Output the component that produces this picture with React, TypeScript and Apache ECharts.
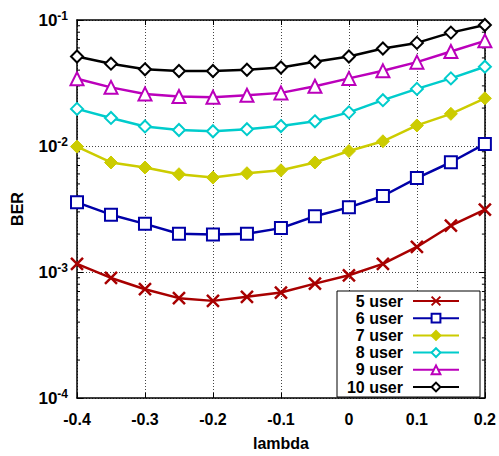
import React, { useEffect, useRef } from "react";
import * as echarts from "echarts";

const lambdas = [-0.4, -0.35, -0.3, -0.25, -0.2, -0.15, -0.1, -0.05, 0, 0.05, 0.1, 0.15, 0.2];
const user5 = [0.00116, 0.000897, 0.00073, 0.00062, 0.00059, 0.000635, 0.000687, 0.000809, 0.000942, 0.00116, 0.00158, 0.00233, 0.00313];
const user6 = [0.00357, 0.00285, 0.00241, 0.00201, 0.00198, 0.00201, 0.00223, 0.00277, 0.00326, 0.00401, 0.00556, 0.00743, 0.01038];
const user7 = [0.00989, 0.0074, 0.00675, 0.00597, 0.00562, 0.00608, 0.00642, 0.0074, 0.00912, 0.0109, 0.01456, 0.018, 0.0239];
const user8 = [0.0197, 0.0167, 0.0143, 0.0134, 0.0131, 0.0136, 0.0144, 0.0157, 0.0185, 0.0231, 0.0284, 0.0344, 0.0426];
const user9 = [0.0342, 0.0292, 0.0259, 0.0247, 0.0244, 0.0253, 0.0264, 0.0298, 0.0344, 0.0395, 0.0463, 0.0562, 0.0683];
const user10 = [0.0513, 0.045, 0.0406, 0.0394, 0.0394, 0.0403, 0.042, 0.0466, 0.0513, 0.0594, 0.0658, 0.0794, 0.0913];
const seriesNames = ["5 user", "6 user", "7 user", "8 user", "9 user", "10 user"];
const minorTicks = [2e-4, 3e-4, 4e-4, 5e-4, 6e-4, 7e-4, 8e-4, 9e-4, 2e-3, 3e-3, 4e-3, 5e-3, 6e-3, 7e-3, 8e-3, 9e-3, 2e-2, 3e-2, 4e-2, 5e-2, 6e-2, 7e-2, 8e-2, 9e-2];

const FONT = "'Liberation Sans', Arial, sans-serif";
const CROSS = "path://M0,0L10,10M10,0L0,10";

export default function App() {
  const ref = useRef<HTMLDivElement>(null);
  useEffect(() => {
    const chart = echarts.init(ref.current!, null, { renderer: "svg" });
    const allData = [user5, user6, user7, user8, user9, user10];
    const styles = [
      { color: "#a80000", symbol: CROSS, size: 12, fill: "#a80000", bw: 2.5 },
      { color: "#0000a8", symbol: "rect", size: 12, fill: "#fff", bw: 2 },
      { color: "#cccc00", symbol: "diamond", size: 13, fill: "#cccc00", bw: 1 },
      { color: "#00cccc", symbol: "diamond", size: 12, fill: "#fff", bw: 2 },
      { color: "#bb00bb", symbol: "triangle", size: 13, fill: "#fff", bw: 2 },
      { color: "#000000", symbol: "diamond", size: 12, fill: "#fff", bw: 2 },
    ];
    const lineSeries = allData.map((d, i) => ({
      name: seriesNames[i],
      type: "line",
      data: d.map((v, j) => [lambdas[j], v]),
      symbol: styles[i].symbol,
      symbolSize: styles[i].size,
      showAllSymbol: true,
      lineStyle: { color: styles[i].color, width: 2.5 },
      itemStyle: { color: styles[i].fill, borderColor: styles[i].color, borderWidth: styles[i].bw },
      z: 3,
    }));
    const minorSeries = {
      type: "custom",
      silent: true,
      data: minorTicks.map((v) => [lambdas[0], v]),
      renderItem: (params: any, api: any) => {
        const p = api.coord([api.value(0), api.value(1)]);
        const cs = params.coordSys;
        const st = { stroke: "#000", lineWidth: 1 };
        return {
          type: "group",
          children: [
            { type: "line", shape: { x1: cs.x, y1: p[1], x2: cs.x + 3, y2: p[1] }, style: st },
            { type: "line", shape: { x1: cs.x + cs.width - 3, y1: p[1], x2: cs.x + cs.width, y2: p[1] }, style: st },
          ],
        };
      },
      z: 2,
    };
    const yLabel = {
      fontFamily: FONT,
      formatter: (v: number) => `{b|10}{s|${Math.round(Math.log10(v))}}`,
      margin: 9,
      rich: {
        b: { fontSize: 17, fontWeight: "bold", fontFamily: FONT, color: "#000" },
        s: { fontSize: 12, fontWeight: "bold", fontFamily: FONT, color: "#000", padding: [0, 0, 9, 0] },
      },
    };
    const axisLine = { show: true, onZero: false, lineStyle: { color: "#000", width: 1.5 } };
    const option: any = {
      animation: false,
      backgroundColor: "#fff",
      grid: { left: 77, right: 14, top: 20, bottom: 48, containLabel: false },
      xAxis: [
        {
          type: "value",
          min: -0.4,
          max: 0.2,
          interval: 0.1,
          name: "lambda",
          nameLocation: "middle",
          nameGap: 37,
          nameTextStyle: { fontFamily: FONT, fontWeight: "bold", fontSize: 16, color: "#000" },
          axisLine,
          axisTick: { show: true, inside: true, length: 5, lineStyle: { color: "#000" } },
          axisLabel: {
            fontFamily: FONT,
            fontWeight: "bold",
            fontSize: 16,
            color: "#000",
            margin: 13,
            formatter: (v: number) => (Math.abs(v) < 1e-9 ? "0" : v.toFixed(1)),
          },
          splitLine: { show: true, lineStyle: { color: "#444", type: [1, 2], width: 1 } },
        },
        {
          type: "value",
          position: "top",
          min: -0.4,
          max: 0.2,
          interval: 0.1,
          axisLine,
          axisTick: { show: true, inside: true, length: 5, lineStyle: { color: "#000" } },
          axisLabel: { show: false },
          splitLine: { show: false },
        },
      ],
      yAxis: [
        {
          type: "log",
          logBase: 10,
          min: 1e-4,
          max: 1e-1,
          name: "BER",
          nameLocation: "middle",
          nameGap: 52,
          nameRotate: 90,
          nameTextStyle: { fontFamily: FONT, fontWeight: "bold", fontSize: 16, color: "#000" },
          axisLine,
          axisTick: { show: true, inside: true, length: 6, lineStyle: { color: "#000" } },
          axisLabel: yLabel,
          splitLine: { show: true, lineStyle: { color: "#444", type: [1, 2], width: 1 } },
        },
        {
          type: "log",
          logBase: 10,
          min: 1e-4,
          max: 1e-1,
          position: "right",
          axisLine,
          axisTick: { show: true, inside: true, length: 6, lineStyle: { color: "#000" } },
          axisLabel: { show: false },
          splitLine: { show: false },
        },
      ],
      legend: {
        data: seriesNames,
        orient: "vertical",
        left: 337,
        top: 291,
        align: "right",
        itemWidth: 46,
        itemHeight: 11,
        itemGap: 1.2,
        padding: [2, 20, 2, 6],
        backgroundColor: "#fff",
        borderColor: "#000",
        borderWidth: 1,
        borderRadius: 0,
        formatter: (name: string) => `{a|${name}}`,
        textStyle: {
          fontFamily: FONT,
          fontWeight: "bold",
          fontSize: 16,
          color: "#000",
          lineHeight: 16,
          rich: {
            a: {
              width: 60,
              align: "right",
              padding: [0, 5, 0, 0],
              fontFamily: FONT,
              fontWeight: "bold",
              fontSize: 16,
              lineHeight: 16,
              color: "#000",
            },
          },
        },
      },
      series: [minorSeries, ...lineSeries],
    };
    chart.setOption(option);
    return () => chart.dispose();
  }, []);
  return (
    <div
      ref={ref}
      style={{ position: "fixed", left: 0, top: 0, width: 499, height: 456 }}
    />
  );
}
